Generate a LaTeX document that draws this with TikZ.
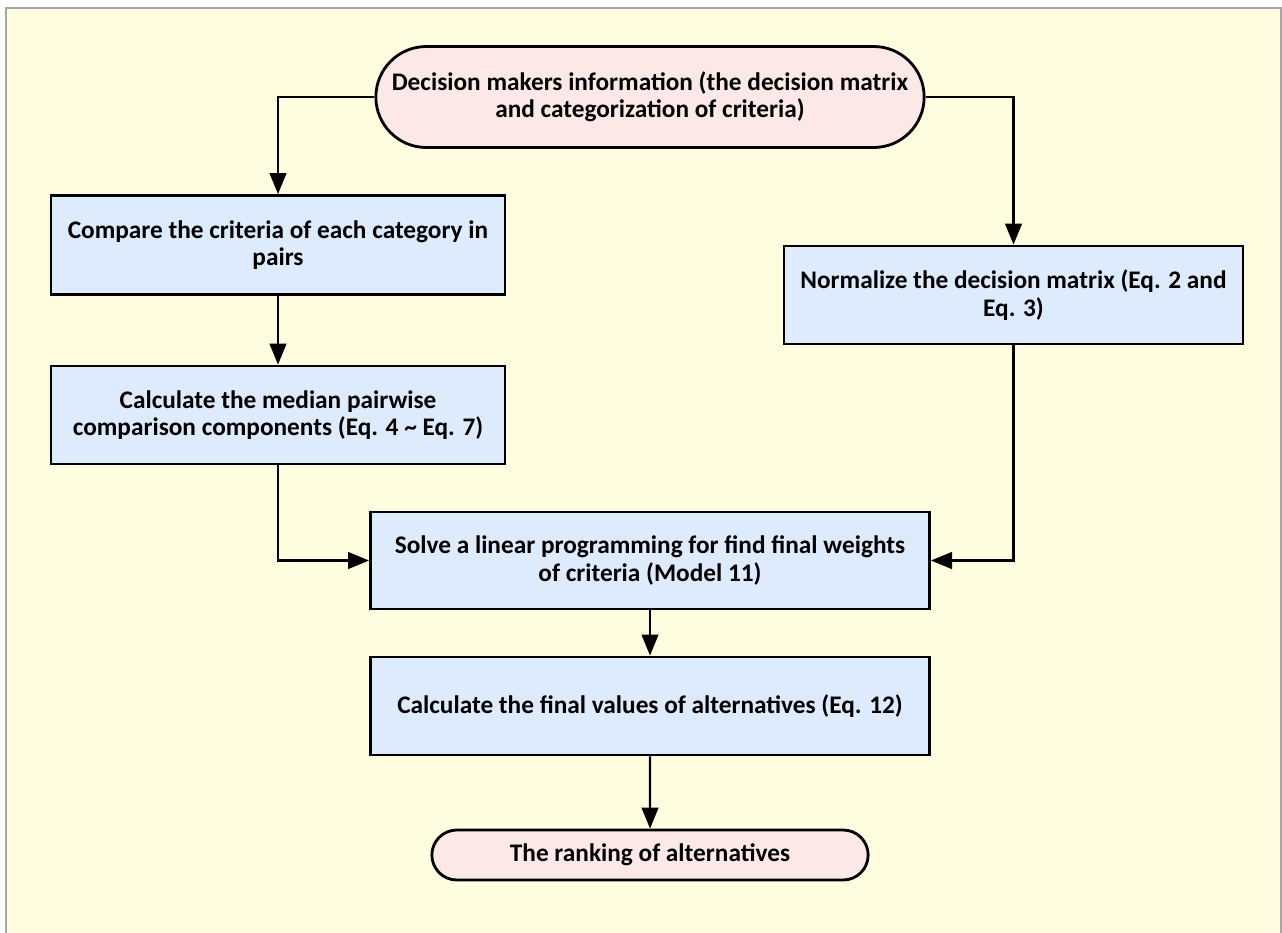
\documentclass[tikz,border=0pt]{standalone}
\usepackage{fontspec}
\setmainfont{Carlito}
\usetikzlibrary{arrows.meta,shapes.misc}
\definecolor{bgyellow}{RGB}{255,253,224}
\definecolor{termpink}{RGB}{253,232,232}
\definecolor{stepblue}{RGB}{221,235,253}
\tikzstyle{term}=[rounded rectangle,draw=black,line width=1.6pt,fill=termpink,align=center,font=\bfseries\fontsize{14.4}{15.6}\selectfont]
\tikzstyle{stepbox}=[rectangle,draw=black,line width=1.6pt,fill=stepblue,align=center,font=\bfseries\fontsize{14.4}{15.6}\selectfont]
\tikzstyle{flow}=[-{Triangle[length=12pt,width=9.5pt]}, line width=1.3pt]

\begin{document}
\begin{tikzpicture}[flow]
\useasboundingbox (0,0) rectangle (25.64,-18.64);
\draw[draw=black!35,line width=1.2pt,fill=bgyellow,-] (0.12,-0.16) rectangle (25.62,-19);
\node[term,minimum width=11.2cm,minimum height=2.02cm] (info) at (13.0,-1.94) {Decision makers information (the decision matrix\\and categorization of criteria)};
\node[stepbox,minimum width=9.08cm,minimum height=1.98cm] (compare) at (5.56,-4.9) {Compare the criteria of each category in\\pairs};
\node[stepbox,minimum width=9.08cm,minimum height=1.96cm] (median) at (5.56,-8.3) {Calculate the median pairwise\\comparison components (Eq. 4 \textasciitilde{} Eq. 7)};
\node[stepbox,minimum width=9.18cm,minimum height=1.96cm] (norm) at (20.27,-5.9) {Normalize the decision matrix (Eq. 2 and\\Eq. 3)};
\node[stepbox,minimum width=11.18cm,minimum height=1.94cm] (solve) at (13.0,-11.21) {Solve a linear programming for find final weights\\of criteria (Model 11)};
\node[stepbox,minimum width=11.18cm,minimum height=1.96cm] (final) at (13.0,-14.12) {Calculate the final values of alternatives (Eq. 12)};
\node[term,minimum width=8.96cm,minimum height=1.0cm] (rank) at (13.0,-17.1) {The ranking of alternatives};
\draw (info.west) -| (compare.north);
\draw (info.east) -| (norm.north);
\draw (compare) -- (median);
\draw (median.south) |- (solve.west);
\draw (norm.south) |- (solve.east);
\draw (solve) -- (final);
\draw (final) -- (rank);
\end{tikzpicture}
\end{document}
